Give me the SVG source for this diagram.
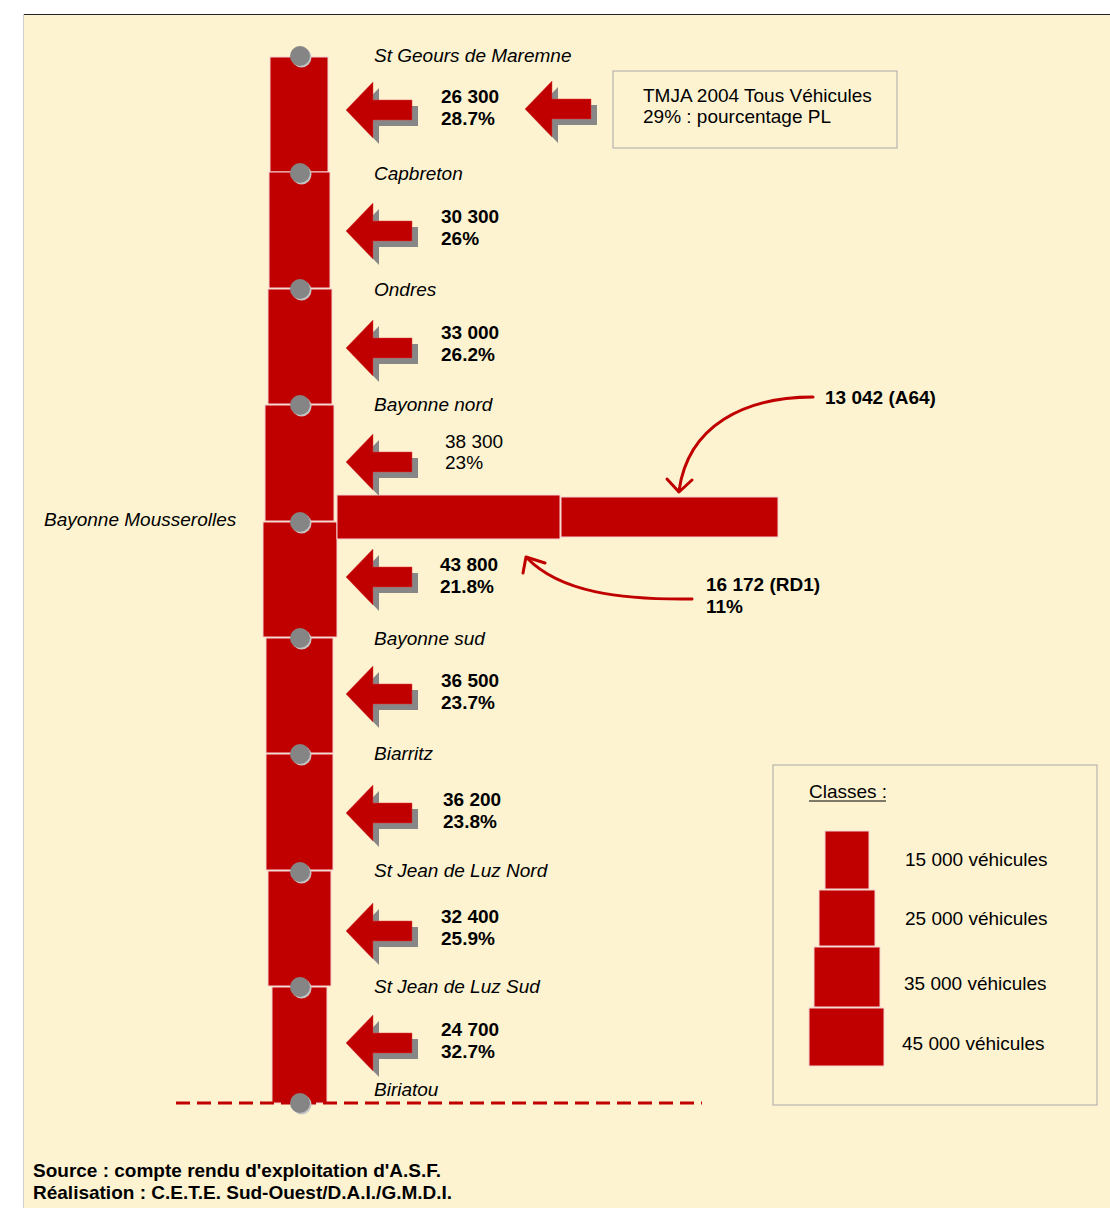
<svg xmlns="http://www.w3.org/2000/svg" width="1110" height="1208" viewBox="0 0 1110 1208">
<style>
text{font-family:"Liberation Sans",Arial,sans-serif;font-size:19px;fill:#000}
.it{font-style:italic}
.b{font-weight:bold}
.seg{fill:#C00000;stroke:#f4d2d2;stroke-width:1}
.dot{fill:#858585}
.dsh{fill:#c4c4c4}
.curve{fill:none;stroke:#C00000;stroke-width:3;stroke-linecap:round;stroke-linejoin:round}
</style>
<defs>
<g id="arr">
<path d="M6,6 L33,-22 L33,-4 L72,-4 L72,16 L33,16 L33,34 Z" fill="#878787"/>
<path d="M0,0 L27,-28 L27,-10 L66,-10 L66,10 L27,10 L27,28 Z" fill="#C00000" stroke="#d84040" stroke-width="0.5"/>
</g>
<g id="pt">
<circle cx="1.5" cy="1.5" r="10" class="dsh"/>
<circle cx="0" cy="0" r="10" class="dot"/>
</g>
</defs>
<rect x="0" y="0" width="1110" height="1208" fill="#ffffff"/>
<rect x="23" y="14" width="1087" height="1194" fill="#FDF3D1"/>
<line x1="23" y1="14.5" x2="1110" y2="14.5" stroke="#222" stroke-width="1.2"/>
<line x1="23.5" y1="14" x2="23.5" y2="1208" stroke="#cfcfcf" stroke-width="1"/>

<g id="column">
<rect class="seg" x="270" y="57" width="58" height="115"/>
<rect class="seg" x="269" y="172" width="61" height="116"/>
<rect class="seg" x="268" y="289" width="64" height="115"/>
<rect class="seg" x="265" y="405" width="69" height="116"/>
<rect class="seg" x="263" y="522" width="74" height="115"/>
<rect class="seg" x="266" y="638" width="67" height="115"/>
<rect class="seg" x="266" y="754" width="67" height="116"/>
<rect class="seg" x="268" y="871" width="63" height="115"/>
<rect class="seg" x="272" y="987" width="55" height="116"/>
</g>

<g id="branch">
<rect class="seg" x="337" y="495" width="223" height="44"/>
<rect class="seg" x="561" y="497" width="217" height="40"/>
</g>

<g id="connectors">
<line x1="176" y1="1103" x2="702" y2="1103" stroke="#C00000" stroke-width="3" stroke-dasharray="14 7"/>
<path class="curve" d="M813,397 C745,397 688,425 679,491"/>
<path class="curve" d="M667,479 L679,492 L692,480"/>
<path class="curve" d="M692,599 C620,600 560,592 527,558"/>
<path class="curve" d="M545,563 L526,557 L523,573"/>
</g>

<g id="points">
<use href="#pt" x="300" y="56"/>
<use href="#pt" x="300" y="173"/>
<use href="#pt" x="300" y="289"/>
<use href="#pt" x="300" y="405"/>
<use href="#pt" x="300" y="522"/>
<use href="#pt" x="300" y="638"/>
<use href="#pt" x="300" y="754"/>
<use href="#pt" x="300" y="872"/>
<use href="#pt" x="300" y="987"/>
<use href="#pt" x="300" y="1103"/>
</g>

<g id="arrows">
<use href="#arr" x="346" y="110"/>
<use href="#arr" x="346" y="231"/>
<use href="#arr" x="346" y="348"/>
<use href="#arr" x="346" y="462"/>
<use href="#arr" x="346" y="577"/>
<use href="#arr" x="346" y="694"/>
<use href="#arr" x="346" y="813"/>
<use href="#arr" x="346" y="931"/>
<use href="#arr" x="346" y="1043"/>
<use href="#arr" x="525" y="109"/>
</g>

<g id="labels">
<text class="it" x="374" y="62">St Geours de Maremne</text>
<text class="it" x="374" y="180">Capbreton</text>
<text class="it" x="374" y="296">Ondres</text>
<text class="it" x="374" y="411">Bayonne nord</text>
<text class="it" x="44" y="526">Bayonne Mousserolles</text>
<text class="it" x="374" y="645">Bayonne sud</text>
<text class="it" x="374" y="760">Biarritz</text>
<text class="it" x="374" y="877">St Jean de Luz Nord</text>
<text class="it" x="374" y="993">St Jean de Luz Sud</text>
<text class="it" x="374" y="1096">Biriatou</text>
</g>

<g id="values">
<text class="b" x="441" y="103">26 300</text>
<text class="b" x="441" y="125">28.7%</text>
<text class="b" x="441" y="223">30 300</text>
<text class="b" x="441" y="245">26%</text>
<text class="b" x="441" y="339">33 000</text>
<text class="b" x="441" y="361">26.2%</text>
<text x="445" y="448">38 300</text>
<text x="445" y="469">23%</text>
<text class="b" x="440" y="571">43 800</text>
<text class="b" x="440" y="593">21.8%</text>
<text class="b" x="441" y="687">36 500</text>
<text class="b" x="441" y="709">23.7%</text>
<text class="b" x="443" y="806">36 200</text>
<text class="b" x="443" y="828">23.8%</text>
<text class="b" x="441" y="923">32 400</text>
<text class="b" x="441" y="945">25.9%</text>
<text class="b" x="441" y="1036">24 700</text>
<text class="b" x="441" y="1058">32.7%</text>
<text class="b" x="825" y="404">13 042 (A64)</text>
<text class="b" x="706" y="591">16 172 (RD1)</text>
<text class="b" x="706" y="613">11%</text>
</g>

<g id="infobox">
<rect x="613" y="71" width="284" height="77" fill="none" stroke="#a8a8a8" stroke-width="1"/>
<text x="643" y="102">TMJA 2004 Tous Véhicules</text>
<text x="643" y="123">29% : pourcentage PL</text>
</g>

<g id="legend">
<rect x="773" y="765" width="324" height="340" fill="none" stroke="#a8a8a8" stroke-width="1"/>
<text x="809" y="798">Classes :</text>
<line x1="809" y1="801" x2="886" y2="801" stroke="#000" stroke-width="1.2"/>
<rect class="seg" x="825" y="831" width="44" height="58"/>
<rect class="seg" x="819" y="890" width="56" height="56"/>
<rect class="seg" x="814" y="947" width="66" height="60"/>
<rect class="seg" x="809" y="1008" width="75" height="58"/>
<text x="905" y="866">15 000 véhicules</text>
<text x="905" y="925">25 000 véhicules</text>
<text x="904" y="990">35 000 véhicules</text>
<text x="902" y="1050">45 000 véhicules</text>
</g>

<g id="footer">
<text class="b" x="33" y="1177">Source : compte rendu d'exploitation d'A.S.F.</text>
<text class="b" x="33" y="1199">Réalisation : C.E.T.E. Sud-Ouest/D.A.I./G.M.D.I.</text>
</g>
</svg>
